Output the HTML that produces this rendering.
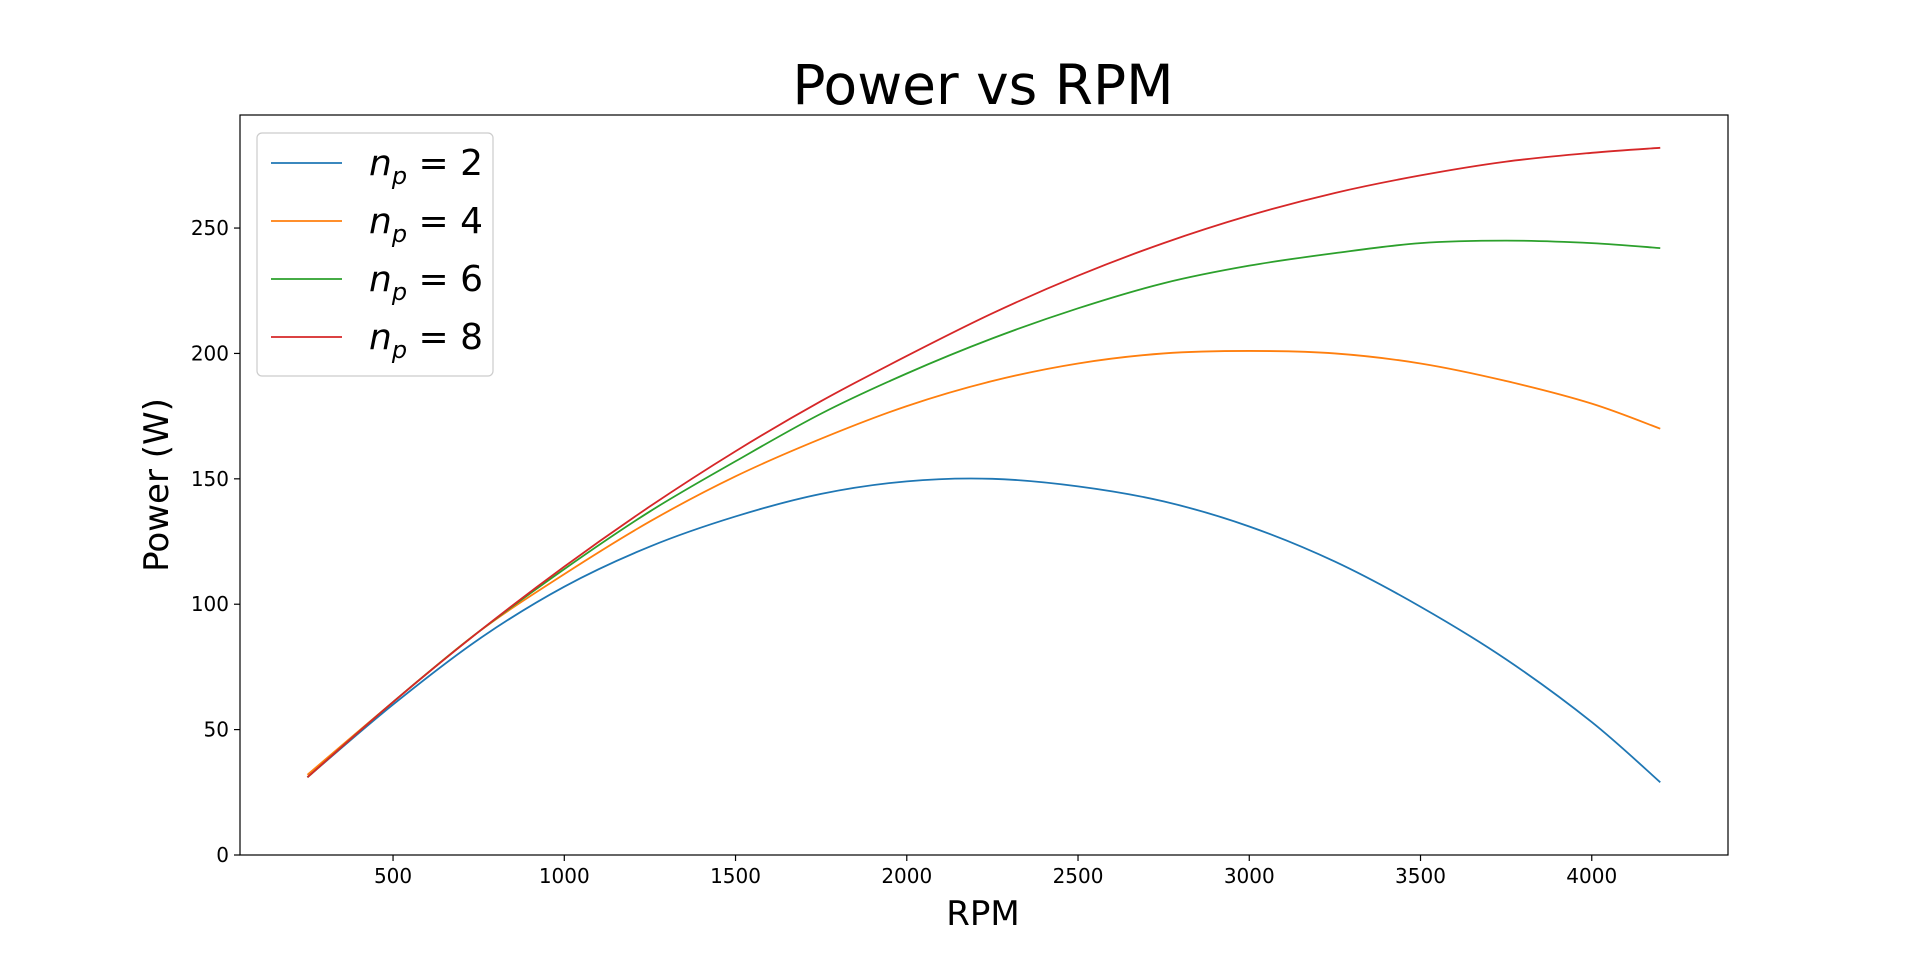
<!DOCTYPE html>
<html><head><meta charset="utf-8"><style>
html,body{margin:0;padding:0;background:#fff;}
svg{display:block;font-family:"DejaVu Sans","Liberation Sans",sans-serif;}
</style></head><body>
<svg id="chart" width="1920" height="961" viewBox="0 0 1920 961" xmlns="http://www.w3.org/2000/svg">
<rect width="1920" height="961" fill="#fff"/>
<text x="983" y="104" font-size="55" text-anchor="middle">Power vs RPM</text>
<g id="plot"></g>
<rect x="240" y="115" width="1488" height="740" fill="none" stroke="#000" stroke-width="1.2"/>
<text x="983" y="925" font-size="34" text-anchor="middle">RPM</text>
<text transform="translate(168,485) rotate(-90)" font-size="34" text-anchor="middle">Power (W)</text>
<g id="legend"></g>
</svg>
<script>
const rpm = [250,500,750,1000,1250,1500,1750,2000,2250,2500,2750,3000,3250,3500,3750,4000,4200];
const np2 = [31,60,86,107,123,135,144,149,150,147,141,131,117,99,78,53,29];
const np4 = [32,61,89,112,133,151,166,179,189,196,200,201,200,196,189,180,170];
const np6 = [31,61,89,114,137,157,176,192,206,218,228,235,240,244,245,244,242];
const np8 = [31,61,89,115,139,161,181,199,216,231,244,255,264,271,276.5,280,282];
const xTicks = [500,1000,1500,2000,2500,3000,3500,4000];
const yTicks = [0,50,100,150,200,250];
const seriesNames = ["np-2","np-4","np-6","np-8"];
const seriesLabels = ["2","4","6","8"];
const NS="http://www.w3.org/2000/svg";
const X = v => 221.8 + v*0.34249;
const Y = v => 855 - v*2.5078;
const plot=document.getElementById('plot');
function mk(t,a){const e=document.createElementNS(NS,t);for(const k in a)e.setAttribute(k,a[k]);return e;}
xTicks.forEach(t=>{
  const l=mk('line',{x1:X(t),x2:X(t),y1:855,y2:861,stroke:'#000','stroke-width':1.2});
  
  
  plot.appendChild(l);
  const tx=mk('text',{x:X(t),y:883,'font-size':20,'text-anchor':'middle'});
  
  
  tx.textContent=t;plot.appendChild(tx);
});
yTicks.forEach(t=>{
  const l=mk('line',{x1:234,x2:240,y1:Y(t),y2:Y(t),stroke:'#000','stroke-width':1.2});
  
  
  plot.appendChild(l);
  const tx=mk('text',{x:229,y:Y(t)+7,'font-size':20,'text-anchor':'end'});
  
  
  tx.textContent=t;plot.appendChild(tx);
});
function pathFor(vals){
  const p=rpm.map((r,i)=>[X(r),Y(vals[i])]);
  let d='M'+p[0][0]+','+p[0][1];
  for(let i=0;i<p.length-1;i++){
    const p0=p[i-1]||p[i],p1=p[i],p2=p[i+1],p3=p[i+2]||p[i+1];
    const c1=[p1[0]+(p2[0]-p0[0])/6,p1[1]+(p2[1]-p0[1])/6];
    const c2=[p2[0]-(p3[0]-p1[0])/6,p2[1]-(p3[1]-p1[1])/6];
    d+=' C'+c1+' '+c2+' '+p2;
  }
  return d;
}
const colors=['#1f77b4','#ff7f0e','#2ca02c','#d62728'];
[np2,np4,np6,np8].forEach((s,i)=>{
  const e=mk('path',{d:pathFor(s),fill:'none',stroke:colors[i],'stroke-width':1.8});
  
  
  plot.appendChild(e);
});
const lg=document.getElementById('legend');
const box=mk('rect',{x:257,y:133,width:236,height:243,rx:5,fill:'#fff','fill-opacity':0.8,stroke:'#ccc','stroke-width':1.2});


lg.appendChild(box);
[163,221,279,337].forEach((y,i)=>{
  const l=mk('line',{x1:271,x2:342,y1:y,y2:y,stroke:colors[i],'stroke-width':1.8});
  
  
  lg.appendChild(l);
  const t=mk('text',{x:369,y:y+12,'font-size':36});
  
  
  t.innerHTML='<tspan font-style="italic">n</tspan><tspan font-style="italic" font-size="24" dy="9">p</tspan><tspan dy="-9"> = '+seriesLabels[i]+'</tspan>';
  lg.appendChild(t);
});
</script>
</body></html>
